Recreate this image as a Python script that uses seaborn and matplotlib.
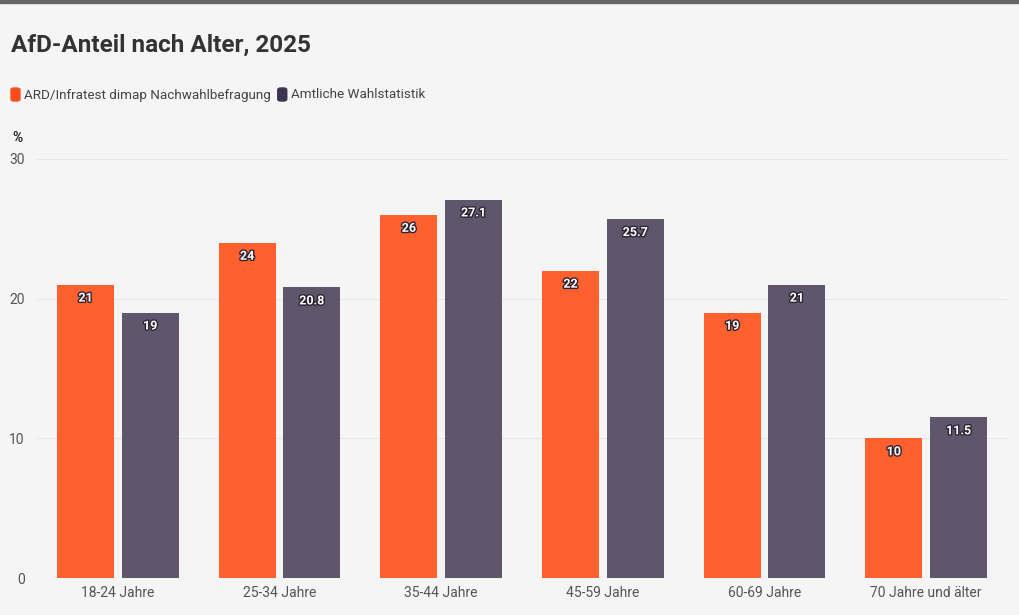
import pandas as pd
import matplotlib.pyplot as plt
import matplotlib.patheffects as pe
from matplotlib.patches import FancyBboxPatch, Rectangle
import seaborn as sns

# data
categories = ['18-24 Jahre', '25-34 Jahre', '35-44 Jahre', '45-59 Jahre', '60-69 Jahre', '70 Jahre und älter']
series = ['ARD/Infratest dimap Nachwahlbefragung', 'Amtliche Wahlstatistik']
infratest = [21, 24, 26, 22, 19, 10]
amtlich = [19, 20.8, 27.1, 25.7, 21, 11.5]
yticks = [0, 10, 20, 30]

bar_colors = ['#ff602d', '#5f566c']
legend_colors = ['#ff4e1a', '#3d3350']
bg = '#f5f5f5'

df = pd.DataFrame({
    'Alter': categories * 2,
    'Serie': [series[0]] * len(categories) + [series[1]] * len(categories),
    'Wert': infratest + amtlich,
})

sns.set_theme(style='white')
plt.rcParams['font.family'] = ['Roboto', 'DejaVu Sans']

fig = plt.figure(figsize=(10.2, 6.15), dpi=100, facecolor=bg)
ax = fig.add_axes([37 / 1020, 1 - 578 / 615, 970 / 1020, 419 / 615])
ax.set_facecolor(bg)

sns.barplot(data=df, x='Alter', y='Wert', hue='Serie', palette=bar_colors,
            width=0.8, gap=0.12, legend=False, ax=ax, saturation=1, linewidth=0)

ax.set_ylim(0, 30)
ax.set_xlim(-0.5, len(categories) - 0.5)
ax.set_yticks(yticks)
ax.set_yticklabels([str(t) for t in yticks])
ax.grid(axis='y', color='#e6e6e6', linewidth=0.8)
ax.set_axisbelow(True)
for s in ax.spines.values():
    s.set_visible(False)
ax.set_xlabel('')
ax.set_ylabel('')
ax.tick_params(axis='both', length=0, labelsize=10, labelcolor='#555555')
ax.tick_params(axis='y', pad=9)
ax.tick_params(axis='x', pad=6)

# value labels
for cont in ax.containers:
    for bar in cont:
        h = bar.get_height()
        txt = f'{h:g}'
        ax.annotate(txt, (bar.get_x() + bar.get_width() / 2, h), xytext=(0, -5),
                    textcoords='offset points', ha='center', va='top',
                    fontsize=9, fontweight='bold', color='white',
                    path_effects=[pe.withStroke(linewidth=2, foreground='#2b2533')])

# top border line
fig.patches.append(Rectangle((0, 1 - 3 / 615), 1, 3 / 615, transform=fig.transFigure,
                             color='#666666', zorder=5))

# title, legend, unit
fig.text(11 / 1020, 1 - 45 / 615, 'AfD-Anteil nach Alter, 2025', fontsize=17.5,
         fontweight='bold', color='#333333', va='center', ha='left')

x = 11
for name, col in zip(series, legend_colors):
    fig.patches.append(FancyBboxPatch((x / 1020, 1 - 101 / 615), 9 / 1020, 13 / 615,
                                      boxstyle='round,pad=0,rounding_size=0.003',
                                      transform=fig.transFigure, color=col))
    t = fig.text((x + 13) / 1020, 1 - 95 / 615, name, fontsize=9.7, color='#444444',
                 va='center', ha='left')
    fig.canvas.draw()
    bb = t.get_window_extent()
    x = bb.x1 + 7

fig.text(12 / 1020, 1 - 138 / 615, '%', fontsize=10, fontweight='bold', color='#222222',
         va='center', ha='left')

fig.savefig('out.png', dpi=100, facecolor=bg)
